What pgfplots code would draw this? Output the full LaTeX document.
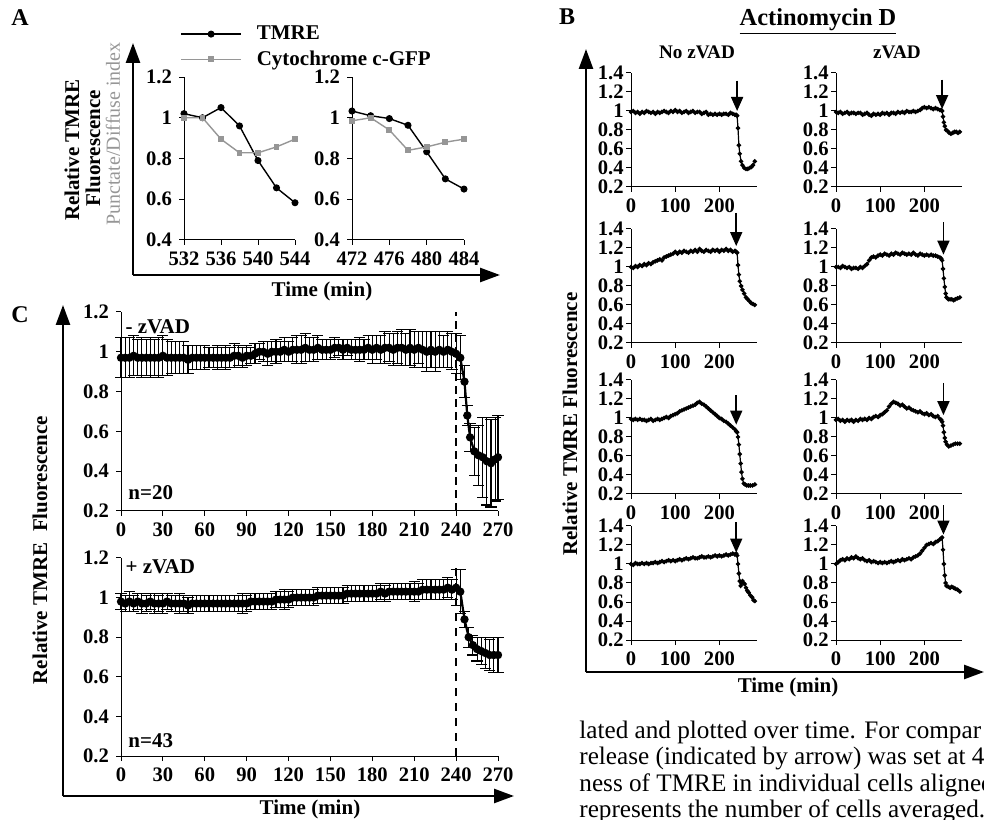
\documentclass[border=0pt]{standalone}
\usepackage{fontspec}
\setmainfont{Liberation Serif}
\usepackage{pgfplots}
\usepackage{pgfplotstable}
\pgfplotsset{compat=1.18}
\usetikzlibrary{arrows.meta}
\definecolor{cytgray}{RGB}{150,150,150}

\pgfplotsset{
  panel/.style={
    scale only axis, anchor=south west,
    axis x line*=bottom, axis y line*=left,
    enlargelimits=false, clip=false,
    tick align=outside, major tick length=2.5pt,
    axis line style={line width=0.5pt},
    tick style={line width=0.5pt, black},
    /pgf/number format/assume math mode=true,
    ticklabel style={font=\bfseries\fontsize{10.3}{10.3}\selectfont},
  },
  bpanel/.style={panel, width=63pt, height=57pt,
    xmin=0, xmax=285, ymin=0.2, ymax=1.4,
    xtick={0,100,200}, ytick={0.2,0.4,0.6,0.8,1,1.2,1.4},
    yticklabel style={inner xsep=1pt}},
  cpanel/.style={panel, width=188.5pt, height=99.5pt,
    xmin=0, xmax=270, ymin=0.2, ymax=1.2,
    xtick={0,30,...,270}, ytick={0.2,0.4,0.6,0.8,1,1.2}},
  bline/.style={black, line width=0.6pt, mark=*, mark size=0.8pt},
  cline/.style={black, line width=1.1pt, mark=*, mark size=1.5pt,
    error bars/.cd, y dir=both, y explicit,
    error bar style={line width=0.55pt},
    error mark options={rotate=90, mark size=2.8pt, line width=0.55pt}},
}
\tikzset{
  rel/.style={-{Triangle[length=7pt,width=6pt]}, line width=0.8pt},
  big/.style={-{Triangle[length=10pt,width=7pt]}, line width=1.3pt},
}

% panel C, mean and SEM
\pgfplotstableread{
t m e
0 0.97 0.10
3 0.97 0.10
6 0.97 0.10
9 0.98 0.10
12 0.97 0.09
15 0.97 0.10
18 0.97 0.09
21 0.97 0.10
24 0.97 0.09
27 0.97 0.10
30 0.98 0.10
33 0.97 0.09
36 0.97 0.08
39 0.97 0.08
42 0.97 0.08
45 0.97 0.08
48 0.96 0.07
51 0.97 0.06
54 0.97 0.06
57 0.97 0.06
60 0.97 0.06
63 0.97 0.05
66 0.97 0.05
69 0.97 0.06
72 0.97 0.05
75 0.97 0.06
78 0.97 0.05
81 0.98 0.06
84 0.98 0.05
87 0.97 0.05
90 0.98 0.05
93 0.98 0.04
96 0.99 0.05
99 1.00 0.04
102 1.00 0.05
105 0.99 0.06
108 1.00 0.05
111 1.00 0.06
114 1.00 0.05
117 1.01 0.06
120 1.00 0.05
123 1.01 0.06
126 1.01 0.07
129 1.01 0.07
132 1.02 0.07
135 1.01 0.06
138 1.01 0.06
141 1.02 0.06
144 1.01 0.05
147 1.01 0.05
150 1.01 0.05
153 1.02 0.05
156 1.02 0.04
159 1.01 0.05
162 1.02 0.04
165 1.01 0.05
168 1.01 0.05
171 1.01 0.06
174 1.01 0.05
177 1.02 0.06
180 1.01 0.07
183 1.02 0.06
186 1.01 0.07
189 1.02 0.08
192 1.02 0.07
195 1.01 0.08
198 1.02 0.08
201 1.02 0.09
204 1.01 0.08
207 1.02 0.09
210 1.01 0.09
213 1.02 0.08
216 1.01 0.09
219 1.00 0.10
222 1.01 0.09
225 1.00 0.10
228 1.01 0.09
231 1.00 0.08
234 1.01 0.09
237 1.00 0.09
240 0.99 0.10
243 0.97 0.11
246 0.85 0.08
248 0.68 0.05
250 0.57 0.07
253 0.50 0.12
256 0.48 0.15
259 0.47 0.20
262 0.45 0.22
265 0.44 0.22
268 0.46 0.21
270 0.47 0.21
}\Cminus

\pgfplotstableread{
t m e
0 0.98 0.04
3 0.97 0.04
6 0.98 0.05
9 0.97 0.04
12 0.98 0.04
15 0.97 0.05
18 0.97 0.04
21 0.98 0.04
24 0.97 0.05
27 0.97 0.04
30 0.97 0.05
33 0.98 0.04
36 0.97 0.04
39 0.97 0.04
42 0.97 0.05
45 0.97 0.04
48 0.96 0.04
51 0.97 0.04
54 0.97 0.04
57 0.97 0.04
60 0.97 0.04
63 0.97 0.04
66 0.97 0.04
69 0.97 0.04
72 0.97 0.04
75 0.97 0.04
78 0.97 0.04
81 0.97 0.04
84 0.97 0.04
87 0.97 0.05
90 0.97 0.04
93 0.98 0.04
96 0.98 0.04
99 0.98 0.04
102 0.98 0.04
105 0.98 0.04
108 0.98 0.04
111 0.99 0.04
114 0.99 0.04
117 0.99 0.05
120 0.99 0.04
123 1.00 0.04
126 1.00 0.04
129 1.00 0.04
132 1.00 0.04
135 1.00 0.04
138 1.00 0.04
141 1.01 0.04
144 1.01 0.04
147 1.01 0.04
150 1.01 0.04
153 1.01 0.04
156 1.01 0.04
159 1.01 0.04
162 1.02 0.04
165 1.02 0.04
168 1.02 0.04
171 1.02 0.04
174 1.02 0.04
177 1.02 0.04
180 1.02 0.04
183 1.02 0.04
186 1.03 0.04
189 1.02 0.04
192 1.03 0.04
195 1.03 0.04
198 1.03 0.04
201 1.03 0.04
204 1.03 0.04
207 1.03 0.04
210 1.03 0.05
213 1.03 0.04
216 1.04 0.05
219 1.04 0.05
222 1.04 0.05
225 1.04 0.05
228 1.04 0.05
231 1.04 0.05
234 1.05 0.05
237 1.04 0.05
240 1.05 0.09
243 1.03 0.11
246 0.89 0.04
249 0.80 0.05
252 0.76 0.05
255 0.74 0.06
258 0.73 0.07
261 0.72 0.08
264 0.71 0.08
267 0.71 0.09
270 0.71 0.09
}\Cplus

\begin{document}
\begin{tikzpicture}[font=\bfseries\fontsize{10.5}{12.6}\selectfont]
\useasboundingbox (0,0) rectangle (492pt,409.5pt);

% ---------------- A ----------------
\node[font=\bfseries\fontsize{12}{12}\selectfont] at (10pt,400.5pt) {A};
\begin{axis}[panel, at={(92pt,289.5pt)}, width=55.5pt, height=81.5pt,
  xmin=532, xmax=544, ymin=0.4, ymax=1.2,
  xtick={532,536,540,544}, ytick={0.4,0.6,0.8,1,1.2},
  legend style={at={(axis description cs:-0.09,1.36)}, anchor=north west,
    draw=none, fill=none, font=\bfseries\fontsize{10.5}{10.5}\selectfont,
    row sep=1pt, nodes={inner sep=1.5pt}},
  legend cell align=left,
  legend image code/.code={\draw[mark repeat=2,mark phase=2,#1]
    plot coordinates {(0pt,0pt) (15pt,0pt) (30pt,0pt)};}]
\addplot[black, line width=0.7pt, mark=*, mark size=1.4pt] coordinates {
  (532,1.02) (534,1.00) (536,1.05) (538,0.96) (540,0.79) (542,0.656) (544,0.583)};
\addlegendentry{\hspace{6pt}TMRE}
\addplot[cytgray, line width=0.7pt, mark=square*, mark size=1.1pt] coordinates {
  (532,1.00) (534,1.00) (536,0.895) (538,0.828) (540,0.828) (542,0.857) (544,0.895)};
\addlegendentry{\hspace{6pt}Cytochrome c-GFP}
\end{axis}
\begin{axis}[panel, at={(176pt,289.5pt)}, width=56pt, height=81.5pt,
  xmin=472, xmax=484, ymin=0.4, ymax=1.2,
  xtick={472,476,480,484}, ytick={0.4,0.6,0.8,1,1.2}]
\addplot[black, line width=0.7pt, mark=*, mark size=1.4pt] coordinates {
  (472,1.033) (474,1.01) (476,0.996) (478,0.963) (480,0.833) (482,0.70) (484,0.65)};
\addplot[cytgray, line width=0.7pt, mark=square*, mark size=1.1pt] coordinates {
  (472,0.985) (474,1.00) (476,0.94) (478,0.84) (480,0.857) (482,0.88) (484,0.895)};
\end{axis}
\draw[big] (66.5pt,272pt) -- (66.5pt,388pt);
\draw[big] (66.5pt,272pt) -- (250pt,272pt);
\node at (161pt,264pt) {Time (min)};
\node[rotate=90] at (36pt,334.5pt) {Relative TMRE};
\node[rotate=90] at (46.5pt,335.5pt) {Fluorescence};
\node[rotate=90, text=cytgray, font=\mdseries\fontsize{10}{12}\selectfont] at (56.5pt,342.5pt) {Punctate/Diffuse index};

% ---------------- B ----------------
\node[font=\bfseries\fontsize{12}{12}\selectfont] at (283.5pt,401pt) {B};
\node[font=\bfseries\fontsize{12.2}{12.2}\selectfont] at (409pt,398.5pt) {\underline{Actinomycin D}};
\node[font=\bfseries\fontsize{9.6}{9.6}\selectfont] at (348.5pt,383.5pt) {No zVAD};
\node[font=\bfseries\fontsize{9.6}{9.6}\selectfont] at (448.5pt,383.5pt) {zVAD};

% row 1
\begin{axis}[bpanel, at={(315.5pt,316pt)}]
\addplot[bline] coordinates {
(0,0.99) (5,1.00) (10,0.98) (15,0.99) (20,0.97) (25,0.99) (30,0.98) (35,1.00) (40,0.99) (45,0.98)
(50,0.99) (55,0.97) (60,0.99) (65,0.98) (70,0.99) (75,1.00) (80,0.99) (85,0.98) (90,1.00) (95,0.99)
(100,1.01) (105,0.99) (110,1.00) (115,0.98) (120,0.99) (125,1.00) (130,0.98) (135,0.99) (140,1.00) (145,0.98)
(150,0.99) (155,0.99) (160,0.97) (165,0.98) (170,0.99) (175,0.96) (180,0.97) (185,0.96) (190,0.97) (195,0.96)
(200,0.97) (205,0.96) (210,0.97) (215,0.97) (220,0.96) (225,0.98) (230,0.97) (235,0.96) (238,0.96) (240,0.95)
(242,0.82) (244,0.64) (246,0.55) (249,0.47) (252,0.43) (256,0.40) (260,0.39) (264,0.39) (268,0.40) (272,0.41)
(276,0.43) (280,0.47)};
\draw[rel] (axis cs:240,1.32) -- (axis cs:240,1.00);
\end{axis}
\begin{axis}[bpanel, at={(418pt,316pt)}]
\addplot[bline] coordinates {
(0,0.99) (5,0.98) (10,0.99) (15,0.97) (20,0.98) (25,0.99) (30,0.97) (35,0.98) (40,0.98) (45,0.97)
(50,0.98) (55,0.98) (60,0.96) (65,0.97) (70,0.98) (75,0.96) (80,0.95) (85,0.97) (90,0.96) (95,0.97)
(100,0.96) (105,0.98) (110,0.97) (115,0.98) (120,0.96) (125,0.98) (130,0.98) (135,0.97) (140,0.99) (145,0.98)
(150,0.99) (155,0.98) (160,1.00) (165,0.99) (170,0.99) (175,1.00) (180,0.99) (185,1.00) (190,1.01) (195,1.03)
(200,1.04) (205,1.03) (210,1.04) (215,1.03) (220,1.02) (225,1.03) (230,1.02) (235,1.01) (238,1.01) (240,1.00)
(242,0.94) (244,0.88) (246,0.84) (249,0.80) (252,0.79) (256,0.77) (260,0.76) (264,0.77) (268,0.78) (272,0.78)
(276,0.77) (280,0.78)};
\draw[rel] (axis cs:240,1.33) -- (axis cs:240,1.02);
\end{axis}

% row 2
\begin{axis}[bpanel, at={(315.5pt,238pt)}]
\addplot[bline] coordinates {
(0,1.00) (5,0.99) (10,1.01) (15,1.00) (20,1.02) (25,1.01) (30,1.03) (35,1.02) (40,1.04) (45,1.03)
(50,1.05) (55,1.06) (60,1.07) (65,1.08) (70,1.07) (75,1.10) (80,1.11) (85,1.12) (90,1.13) (95,1.14)
(100,1.16) (105,1.14) (110,1.16) (115,1.15) (120,1.17) (125,1.16) (130,1.15) (135,1.17) (140,1.16) (145,1.18)
(150,1.16) (155,1.19) (160,1.17) (165,1.16) (170,1.18) (175,1.17) (180,1.16) (185,1.18) (190,1.17) (195,1.18)
(200,1.16) (205,1.18) (210,1.17) (215,1.19) (220,1.17) (225,1.18) (230,1.16) (235,1.17) (238,1.16) (240,1.15)
(242,1.02) (244,0.92) (246,0.85) (249,0.80) (252,0.76) (256,0.72) (260,0.68) (264,0.66) (268,0.64) (272,0.62)
(276,0.61) (280,0.60)};
\draw[rel] (axis cs:238,1.57) -- (axis cs:238,1.22);
\end{axis}
\begin{axis}[bpanel, at={(418pt,238pt)}]
\addplot[bline] coordinates {
(0,1.00) (5,1.00) (10,0.99) (15,1.01) (20,1.00) (25,0.99) (30,1.00) (35,0.98) (40,0.99) (45,0.99)
(50,0.98) (55,1.00) (60,0.99) (65,1.01) (70,1.03) (75,1.07) (80,1.10) (85,1.11) (90,1.10) (95,1.12)
(100,1.13) (105,1.12) (110,1.14) (115,1.13) (120,1.12) (125,1.14) (130,1.13) (135,1.15) (140,1.14) (145,1.13)
(150,1.15) (155,1.14) (160,1.13) (165,1.14) (170,1.13) (175,1.15) (180,1.13) (185,1.12) (190,1.14) (195,1.13)
(200,1.12) (205,1.13) (210,1.12) (215,1.13) (220,1.12) (225,1.12) (230,1.11) (235,1.10) (238,1.09) (240,1.07)
(242,0.98) (244,0.88) (246,0.79) (248,0.72) (250,0.68) (254,0.66) (258,0.66) (262,0.66) (266,0.65) (270,0.66)
(275,0.67) (280,0.68)};
\draw[rel] (axis cs:243,1.47) -- (axis cs:243,1.13);
\end{axis}

% row 3
\begin{axis}[bpanel, at={(315.5pt,162.5pt)}]
\addplot[bline] coordinates {
(0,0.99) (5,0.98) (10,0.99) (15,0.98) (20,0.99) (25,0.98) (30,0.98) (35,0.97) (40,0.98) (45,0.99)
(50,0.97) (55,0.98) (60,0.99) (65,0.98) (70,0.99) (75,1.00) (80,1.01) (85,1.00) (90,1.02) (95,1.03)
(100,1.04) (105,1.05) (110,1.07) (115,1.08) (120,1.09) (125,1.10) (130,1.11) (135,1.12) (140,1.13) (145,1.14)
(150,1.16) (155,1.17) (160,1.15) (165,1.14) (170,1.12) (175,1.10) (180,1.08) (185,1.06) (190,1.04) (195,1.02)
(200,1.00) (205,0.99) (210,0.97) (215,0.96) (220,0.94) (225,0.92) (230,0.90) (235,0.88) (238,0.86) (240,0.85)
(242,0.80) (244,0.72) (246,0.62) (248,0.52) (250,0.43) (252,0.36) (255,0.31) (258,0.30) (262,0.29) (266,0.29)
(270,0.29) (275,0.29) (280,0.30)};
\draw[rel] (axis cs:238,1.24) -- (axis cs:238,0.93);
\end{axis}
\begin{axis}[bpanel, at={(418pt,162.5pt)}]
\addplot[bline] coordinates {
(0,0.98) (5,0.99) (10,0.97) (15,0.98) (20,0.96) (25,0.98) (30,0.97) (35,0.98) (40,0.96) (45,0.98)
(50,0.97) (55,0.99) (60,0.98) (65,0.99) (70,0.98) (75,1.00) (80,0.99) (85,1.01) (90,1.02) (95,1.01)
(100,1.03) (105,1.04) (110,1.06) (115,1.08) (120,1.12) (125,1.15) (130,1.17) (135,1.16) (140,1.15) (145,1.13)
(150,1.14) (155,1.12) (160,1.10) (165,1.11) (170,1.09) (175,1.08) (180,1.07) (185,1.06) (190,1.07) (195,1.05)
(200,1.04) (205,1.05) (210,1.03) (215,1.04) (220,1.02) (225,1.01) (230,1.02) (235,0.99) (238,0.98) (240,0.96)
(242,0.92) (244,0.85) (246,0.79) (248,0.75) (251,0.72) (255,0.70) (260,0.71) (265,0.72) (270,0.73) (275,0.73)
(280,0.73)};
\draw[rel] (axis cs:243,1.37) -- (axis cs:243,1.03);
\end{axis}

% row 4
\begin{axis}[bpanel, at={(315.5pt,89.5pt)}]
\addplot[bline] coordinates {
(0,1.00) (5,0.99) (10,1.01) (15,1.00) (20,1.00) (25,1.01) (30,1.00) (35,1.01) (40,1.00) (45,1.01)
(50,1.01) (55,1.02) (60,1.01) (65,1.02) (70,1.03) (75,1.02) (80,1.03) (85,1.04) (90,1.03) (95,1.04)
(100,1.03) (105,1.04) (110,1.05) (115,1.04) (120,1.05) (125,1.06) (130,1.05) (135,1.06) (140,1.07) (145,1.06)
(150,1.06) (155,1.07) (160,1.08) (165,1.07) (170,1.07) (175,1.08) (180,1.07) (185,1.08) (190,1.09) (195,1.08)
(200,1.09) (205,1.08) (210,1.09) (215,1.10) (220,1.09) (225,1.10) (230,1.11) (235,1.10) (238,1.11) (240,1.09)
(242,1.00) (244,0.90) (246,0.82) (248,0.77) (250,0.80) (252,0.82) (254,0.80) (257,0.79) (260,0.75) (263,0.72)
(266,0.70) (270,0.67) (274,0.65) (277,0.62) (280,0.61)};
\draw[rel] (axis cs:238,1.44) -- (axis cs:238,1.12);
\end{axis}
\begin{axis}[bpanel, at={(418pt,89.5pt)}]
\addplot[bline] coordinates {
(0,1.00) (5,1.02) (10,1.04) (15,1.05) (20,1.04) (25,1.06) (30,1.05) (35,1.07) (40,1.06) (45,1.08)
(50,1.06) (55,1.05) (60,1.06) (65,1.04) (70,1.03) (75,1.04) (80,1.02) (85,1.03) (90,1.02) (95,1.01)
(100,1.02) (105,1.01) (110,1.02) (115,1.01) (120,1.02) (125,1.03) (130,1.02) (135,1.03) (140,1.04) (145,1.03)
(150,1.05) (155,1.04) (160,1.05) (165,1.06) (170,1.05) (175,1.07) (180,1.08) (185,1.09) (190,1.11) (195,1.14)
(200,1.17) (205,1.20) (210,1.21) (215,1.22) (220,1.21) (225,1.23) (230,1.24) (235,1.26) (238,1.27) (240,1.28)
(242,1.15) (244,1.00) (246,0.88) (248,0.80) (250,0.77) (254,0.76) (258,0.75) (262,0.76) (266,0.75) (270,0.74)
(275,0.73) (280,0.71)};
\draw[rel] (axis cs:243,1.62) -- (axis cs:243,1.31);
\end{axis}

\draw[big] (293pt,73.5pt) -- (293pt,385pt);
\draw[big] (293pt,73.5pt) -- (492pt,73.5pt);
\node at (394pt,66pt) {Time (min)};
\node[rotate=90] at (285pt,197.5pt) {Relative TMRE Fluorescence};

% ---------------- C ----------------
\node[font=\bfseries\fontsize{12}{12}\selectfont] at (10pt,252pt) {C};
\begin{axis}[cpanel, at={(60.5pt,154pt)}]
\addplot[cline] table[x=t, y=m, y error=e] {\Cminus};
\draw[line width=1.3pt, dash pattern=on 4pt off 2.5pt] (axis cs:240,0.2) -- (axis cs:240,1.2);
\node[anchor=west, inner sep=0pt] at (axis cs:3,1.125) {- zVAD};
\node[anchor=west, inner sep=0pt] at (axis cs:5,0.29) {n=20};
\end{axis}
\begin{axis}[cpanel, at={(60.5pt,31.5pt)}, height=99pt]
\addplot[cline] table[x=t, y=m, y error=e] {\Cplus};
\draw[line width=1.3pt, dash pattern=on 4pt off 3.5pt] (axis cs:240,0.2) -- (axis cs:240,1.15);
\node[anchor=west, inner sep=0pt] at (axis cs:3,1.155) {+ zVAD};
\node[anchor=west, inner sep=0pt] at (axis cs:5,0.28) {n=43};
\end{axis}
\draw[big] (31.5pt,11.5pt) -- (31.5pt,257pt);
\draw[big] (31.5pt,11.5pt) -- (257pt,11.5pt);
\node at (155pt,5pt) {Time (min)};
\node[rotate=90] at (20pt,134.5pt) {Relative TMRE\ \ Fluorescence};

% ---------------- running text ----------------
\begin{scope}[font=\mdseries\fontsize{12.6}{13.25}\selectfont]
\node[anchor=base west, inner sep=0pt] at (289.5pt,40.5pt) {lated and plotted over time. For compar};
\node[anchor=base west, inner sep=0pt] at (289.5pt,27.5pt) {release (indicated by arrow) was set at 4 h};
\node[anchor=base west, inner sep=0pt] at (289.5pt,14pt) {ness of TMRE in individual cells aligned};
\node[anchor=base west, inner sep=0pt] at (289.5pt,1pt) {represents the number of cells averaged. I};
\end{scope}
\end{tikzpicture}
\end{document}
